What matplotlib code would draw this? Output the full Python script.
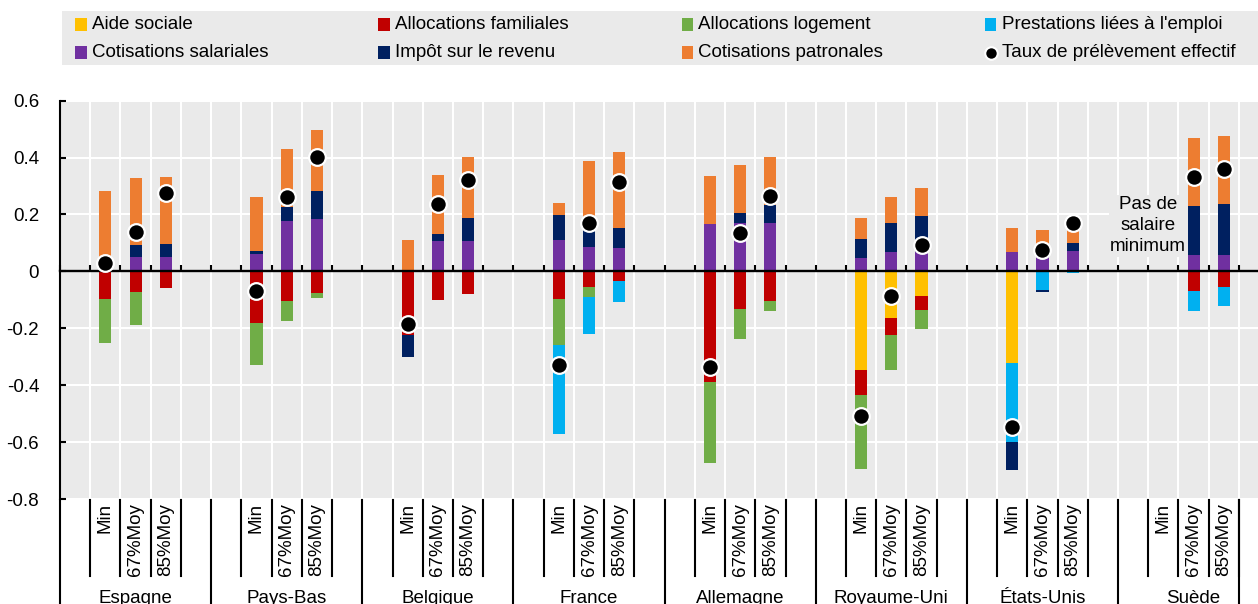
import matplotlib
matplotlib.use("Agg")
import matplotlib.pyplot as plt
from matplotlib.patches import Rectangle
import numpy as np

plt.rcParams['font.family'] = ['Liberation Sans', 'DejaVu Sans']
plt.rcParams['font.size'] = 13.5

nan = np.nan

pays = ["Espagne", "Pays-Bas", "Belgique", "France", "Allemagne",
        "Royaume-Uni", "États-Unis", "Suède"]
niveaux = ["Min", "67%Moy", "85%Moy"]

# one value per (pays, niveau)
cotis_sal = [0.005, 0.050, 0.050,  0.062, 0.177, 0.183,  0.0, 0.107, 0.107,
             0.109, 0.087, 0.083,  0.168, 0.169, 0.169,  0.046, 0.067, 0.068,
             0.068, 0.068, 0.071,  nan, 0.058, 0.058]
impot = [0.0, 0.043, 0.046,  0.010, 0.048, 0.100,  -0.078, 0.026, 0.082,
         0.090, 0.073, 0.068,  0.0, 0.037, 0.066,  0.067, 0.102, 0.126,
         -0.100, -0.007, 0.030,  nan, 0.172, 0.179]
cotis_pat = [0.278, 0.234, 0.235,  0.188, 0.206, 0.214,  0.112, 0.206, 0.212,
             0.041, 0.228, 0.268,  0.167, 0.169, 0.167,  0.074, 0.091, 0.098,
             0.084, 0.079, 0.072,  nan, 0.239, 0.239]
aide = [0, 0, 0,  0, 0, 0,  0, 0, 0,  0, 0, 0,  0, 0, 0,
        -0.347, -0.165, -0.087,  -0.321, 0, 0,  nan, 0, 0]
alloc_fam = [-0.097, -0.072, -0.057,  -0.180, -0.105, -0.075,  -0.224, -0.102, -0.080,
             -0.098, -0.055, -0.034,  -0.389, -0.133, -0.104,  -0.088, -0.059, -0.047,
             0, 0, 0,  nan, -0.070, -0.055]
alloc_log = [-0.156, -0.116, 0,  -0.149, -0.068, -0.020,  0, 0, 0,
             -0.161, -0.036, 0,  -0.286, -0.106, -0.034,  -0.260, -0.123, -0.067,
             0, 0, 0,  nan, 0, 0]
prest_emploi = [0, 0, 0,  0, 0, 0,  0, 0, 0,
                -0.311, -0.128, -0.075,  0, 0, 0,  0, 0, 0,
                -0.278, -0.066, -0.006,  nan, -0.068, -0.066]
taux = [0.031, 0.140, 0.274,  -0.068, 0.260, 0.402,  -0.186, 0.238, 0.321,
        -0.330, 0.171, 0.313,  -0.336, 0.135, 0.265,  -0.507, -0.087, 0.092,
        -0.546, 0.075, 0.169,  nan, 0.333, 0.359]

yticks = [-0.8, -0.6, -0.4, -0.2, 0, 0.2, 0.4, 0.6]
ylabels = ["-0.8", "-0.6", "-0.4", "-0.2", "0", "0.2", "0.4", "0.6"]

c_aide, c_fam, c_log, c_emp = '#FFC000', '#C00000', '#70AD47', '#00B0F0'
c_sal, c_imp, c_pat = '#7030A0', '#002060', '#ED7D31'
bg = '#EAEAEA'

W, H = 1258, 604
fig = plt.figure(figsize=(W / 100, H / 100), dpi=100)
ax = fig.add_axes([60 / W, 105 / H, 1 - 60 / W, 398.3 / H])
ax.set_facecolor(bg)

x = np.array([5 * p + 1 + n for p in range(len(pays)) for n in range(3)])
imp = np.array(impot)
pos = [(np.array(cotis_sal), c_sal), (np.clip(imp, 0, None), c_imp), (np.array(cotis_pat), c_pat)]
neg = [(np.array(aide), c_aide), (np.array(alloc_fam), c_fam), (np.array(alloc_log), c_log),
       (np.array(prest_emploi), c_emp), (np.clip(imp, None, 0), c_imp)]

for stack in (pos, neg):
    base = np.zeros(len(x))
    for vals, col in stack:
        v = np.nan_to_num(vals)
        m = v != 0
        ax.bar(x[m], v[m], bottom=base[m], width=0.4, color=col, linewidth=0, zorder=2)
        base += v

ax.plot(x, taux, 'o', ls='none', ms=12, mfc='black', mec='white', mew=1.6, zorder=5)

ax.text(35.5, 0.16, "Pas de\nsalaire\nminimum", ha='center', va='center',
        multialignment='center', linespacing=1.3, zorder=4,
        bbox=dict(facecolor=bg, edgecolor='none', pad=1))

ax.set_ylim(-0.8, 0.6)
ax.set_xlim(-0.5, 39.13)
ax.set_yticks(yticks)
ax.set_yticklabels(ylabels)
ax.set_xticks(np.arange(-0.5, 39, 1))
ax.set_xticklabels([])
ax.set_axisbelow(True)
ax.grid(True, color='white', linewidth=1.5)

for s in ('top', 'right'):
    ax.spines[s].set_visible(False)
ax.spines['bottom'].set_position(('data', 0))
ax.spines['bottom'].set_linewidth(1.7)
ax.spines['left'].set_linewidth(1.5)
ax.tick_params(axis='y', direction='in', length=4.5, width=1.5, pad=15)
ax.tick_params(axis='x', direction='in', length=4.5, width=1.5)

# category labels under the plot
tr = ax.get_xaxis_transform()
for p, nom in enumerate(pays):
    b = 5 * p
    ax.plot([b - 0.5, b - 0.5], [-0.003, -0.28], color='black', lw=1.5, transform=tr, clip_on=False)
    for k in range(4):
        ax.plot([b + 0.5 + k] * 2, [-0.003, -0.193], color='black', lw=1.5, transform=tr, clip_on=False)
    for n, lab in enumerate(niveaux):
        ax.text(b + 1 + n, -0.01, lab, rotation=90, ha='center', va='top', transform=tr)
    ax.text(b + 2, -0.261, nom, ha='center', va='baseline', transform=tr)
ax.plot([38.5, 38.5], [-0.003, -0.28], color='black', lw=1.5, transform=tr, clip_on=False)

# legend band
lax = fig.add_axes([62 / W, 1 - 65 / H, 1 - 62 / W, 54 / H])
lax.set_xlim(62, W)
lax.set_ylim(65, 11)
lax.set_facecolor(bg)
lax.axis('off')
lax.add_patch(Rectangle((62, 11), W - 62, 54, color=bg, zorder=0))
entrees = [("Aide sociale", c_aide), ("Allocations familiales", c_fam),
           ("Allocations logement", c_log), ("Prestations liées à l'emploi", c_emp),
           ("Cotisations salariales", c_sal), ("Impôt sur le revenu", c_imp),
           ("Cotisations patronales", c_pat), ("Taux de prélèvement effectif", None)]
for i, (lab, col) in enumerate(entrees):
    cx = 81 + 303.2 * (i % 4)
    cy = 24.5 + 28 * (i // 4)
    if col is None:
        lax.plot(cx, cy, 'o', ms=9, mfc='black', mec='white', mew=1.5)
    else:
        lax.add_patch(Rectangle((cx - 5.8, cy - 6.2), 11.6, 12.4, color=col, lw=0))
    lax.text(cx + 11, cy, lab, ha='left', va='center')

fig.savefig("out.png", dpi=100, facecolor='white')
